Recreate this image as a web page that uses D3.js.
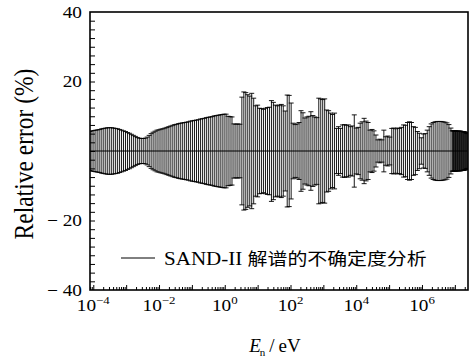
<!DOCTYPE html>
<html>
<head>
<meta charset="utf-8">
<script src="https://cdn.jsdelivr.net/npm/d3@7"></script>
<style>
  body { margin: 0; background: #fff; }
  text { font-family: "Liberation Serif", "Times New Roman", serif; fill: #000; }
</style>
</head>
<body>
<svg id="chart" width="474" height="357"></svg>
<script>
// log10 of neutron energy (eV) for every error bar
const logE = [
  -4.10, -4.04, -3.98, -3.92, -3.86, -3.80, -3.74, -3.68, -3.62, -3.56,
  -3.50, -3.44, -3.38, -3.32, -3.26, -3.20, -3.14, -3.08, -3.02, -2.96,
  -2.90, -2.84, -2.78, -2.72, -2.66, -2.60, -2.54, -2.48, -2.42, -2.36,
  -2.30, -2.24, -2.18, -2.12, -2.06, -2.00, -1.94, -1.88, -1.82, -1.76,
  -1.70, -1.64, -1.58, -1.52, -1.46, -1.40, -1.34, -1.28, -1.22, -1.16,
  -1.10, -1.04, -0.98, -0.92, -0.86, -0.80, -0.74, -0.68, -0.62, -0.56,
  -0.50, -0.44, -0.38, -0.32, -0.26, -0.20, -0.14, -0.08, -0.02,
  0.04, 0.10, 0.16, 0.22, 0.28, 0.34, 0.40, 0.46, 0.52, 0.58,
  0.64, 0.70, 0.76, 0.82, 0.88, 0.94, 1.00, 1.06, 1.12, 1.18,
  1.24, 1.30, 1.36, 1.42, 1.48, 1.54, 1.60, 1.66, 1.72, 1.78,
  1.84, 1.90, 1.96, 2.02, 2.08, 2.14, 2.20, 2.26, 2.32, 2.38,
  2.44, 2.50, 2.56, 2.62, 2.68, 2.74, 2.80, 2.86, 2.92, 2.98,
  3.04, 3.10, 3.16, 3.22, 3.28, 3.34, 3.40, 3.46, 3.52, 3.58,
  3.64, 3.70, 3.76, 3.82, 3.88, 3.94, 4.00, 4.06, 4.12, 4.18,
  4.24, 4.30, 4.36, 4.42, 4.48, 4.54, 4.60, 4.66, 4.72, 4.78,
  4.84, 4.90, 4.96, 5.02, 5.08, 5.14, 5.20, 5.26, 5.32, 5.38,
  5.44, 5.50, 5.56, 5.62, 5.68, 5.74, 5.80, 5.86, 5.92, 5.98,
  6.04, 6.10,
  6.16, 6.22, 6.28, 6.34, 6.40, 6.46, 6.52, 6.58, 6.64, 6.70,
  6.76, 6.82, 6.88,
  6.92, 6.94, 6.96, 6.98, 7.00, 7.02, 7.04, 7.06, 7.08, 7.10,
  7.12, 7.14, 7.16, 7.18, 7.20, 7.22, 7.24, 7.26, 7.28, 7.30,
  7.32, 7.34, 7.36, 7.38
]

// relative error (%), bars are symmetric around 0
const relErr = [
  5.6, 5.8, 5.9, 6.0, 6.1, 6.2, 6.4, 6.5, 6.6, 6.7,
  6.7, 6.7, 6.6, 6.5, 6.4, 6.2, 6.0, 5.8, 5.6, 5.3,
  5.1, 4.8, 4.5, 4.2, 3.9, 3.7, 3.6, 3.6, 3.7, 4.0,
  4.5, 5.0, 5.4, 5.7, 6.0, 6.1, 6.3, 6.4, 6.6, 6.8,
  7.0, 7.2, 7.4, 7.6, 7.7, 7.9, 8.0, 8.1, 8.2, 8.3,
  8.4, 8.6, 8.7, 8.8, 8.9, 9.0, 9.2, 9.3, 9.4, 9.6,
  9.7, 9.8, 9.9, 10.1, 10.2, 10.3, 10.4, 10.5, 10.6,
  10.6, 10.0, 9.9, 9.8, 7.8, 7.7, 7.8, 7.7, 15.5, 17.0,
  16.8, 16.2, 15.8, 16.6, 15.2, 13.0, 13.2, 12.3, 12.2, 12.0,
  12.3, 12.5, 12.6, 14.5, 14.0, 13.2, 13.0, 13.2, 13.4, 13.0,
  11.5, 16.1, 16.0, 13.8, 8.0, 7.6, 7.8, 8.2, 11.6, 11.0,
  9.5, 9.8, 10.0, 11.3, 10.2, 9.8, 9.6, 15.2, 15.0, 14.8,
  15.0, 11.8, 11.6, 10.9, 10.5, 10.9, 6.5, 7.0, 6.5, 7.5,
  7.6, 7.4, 7.5, 7.0, 7.2, 10.4, 6.6, 6.8, 8.0, 8.4,
  9.4, 8.6, 8.2, 6.0, 6.2, 5.8, 4.6, 3.2, 3.4, 3.2,
  6.0, 4.1, 4.3, 4.0, 6.5, 6.6, 6.4, 6.6, 6.5, 6.8,
  7.5, 7.4, 8.2, 8.4, 8.2, 7.0, 6.8, 5.6, 5.1, 3.8,
  4.9, 5.0,
  6.0, 7.0, 7.8, 8.2, 8.4, 8.5, 8.5, 8.5, 8.4, 8.3,
  8.1, 7.6, 6.6,
  5.8, 5.8, 5.8, 5.8, 5.8, 5.8, 5.7, 5.7, 5.7, 5.7,
  5.7, 5.7, 5.7, 5.7, 5.6, 5.6, 5.6, 5.6, 5.5, 5.5,
  5.4, 5.3, 5.1, 5.0
]

const yTickLabels = [40, 20, -20, -40]
const xLabelExps = [-4, -2, 0, 2, 4, 6]
const legendLatin = 'SAND-II '
const legendCjk = '解谱的不确定度分析'

const plotLeft = 90, plotRight = 468, plotTop = 12, plotBottom = 290
const sx = 1.17   // the original figure is stretched sideways a bit

const svg = d3.select('#chart')

const x = d3.scaleLog()
  .domain([Math.pow(10, -4.1), Math.pow(10, 7.4)])
  .range([plotLeft, plotRight])
const y = d3.scaleLinear().domain([-40, 40]).range([plotBottom, plotTop])

// tick values
let majorX = [], minorX = []
for (let d = -5; d <= 7; d++) {
  for (let k = 1; k <= 9; k++) {
    let v = k * Math.pow(10, d)
    if (v < x.domain()[0] || v > x.domain()[1]) continue
    if (k === 1) majorX.push(v)
    else minorX.push(v)
  }
}
let yTicks = d3.range(-37.5, 40, 2.5)

// axes, ticks drawn inward
svg.append('g')
  .attr('transform', 'translate(0,' + plotBottom + ')')
  .call(d3.axisBottom(x).tickValues(minorX).tickSize(-3).tickFormat(''))
svg.append('g')
  .attr('transform', 'translate(0,' + plotBottom + ')')
  .call(d3.axisBottom(x).tickValues(majorX).tickSize(-5).tickFormat(''))
svg.append('g')
  .attr('transform', 'translate(' + plotLeft + ',0)')
  .call(d3.axisLeft(y).tickValues(yTicks).tickSize(-5).tickFormat(''))
svg.selectAll('.domain').remove()
svg.selectAll('.tick line').attr('stroke', '#000').attr('stroke-width', 1)

// error bars
svg.append('clipPath').attr('id', 'clip')
  .append('rect')
  .attr('x', plotLeft).attr('y', plotTop)
  .attr('width', plotRight - plotLeft).attr('height', plotBottom - plotTop)

let pts = logE.map(function (e, i) { return { en: Math.pow(10, e), err: relErr[i] } })
let plot = svg.append('g').attr('clip-path', 'url(#clip)')
let capW = 2.5

let bars = plot.selectAll('g.bar')
  .data(pts)
  .enter()
  .append('g')
  .attr('class', 'bar')
  .attr('stroke', '#000')
  .attr('stroke-width', 0.9)
bars.append('line')
  .attr('x1', function (d) { return x(d.en) })
  .attr('x2', function (d) { return x(d.en) })
  .attr('y1', function (d) { return y(d.err) })
  .attr('y2', function (d) { return y(-d.err) })
bars.append('line')
  .attr('x1', function (d) { return x(d.en) - capW })
  .attr('x2', function (d) { return x(d.en) + capW })
  .attr('y1', function (d) { return y(d.err) })
  .attr('y2', function (d) { return y(d.err) })
bars.append('line')
  .attr('x1', function (d) { return x(d.en) - capW })
  .attr('x2', function (d) { return x(d.en) + capW })
  .attr('y1', function (d) { return y(-d.err) })
  .attr('y2', function (d) { return y(-d.err) })

// the series itself sits on 0
plot.append('path')
  .datum(pts)
  .attr('fill', 'none')
  .attr('stroke', '#000')
  .attr('stroke-width', 1.2)
  .attr('d', d3.line().x(function (d) { return x(d.en) }).y(function () { return y(0) }))

// frame
svg.append('rect')
  .attr('x', plotLeft).attr('y', plotTop)
  .attr('width', plotRight - plotLeft).attr('height', plotBottom - plotTop)
  .attr('fill', 'none')
  .attr('stroke', '#000')
  .attr('stroke-width', 1.6)

// y tick labels
svg.selectAll('text.ylab')
  .data(yTickLabels)
  .enter()
  .append('text')
  .attr('class', 'ylab')
  .attr('transform', function (d) { return 'translate(82,' + (y(d) + 5.8) + ') scale(' + sx + ',1)' })
  .attr('text-anchor', 'end')
  .attr('font-size', 16.5)
  .text(function (d) { return d < 0 ? '\u2212 ' + Math.abs(d) : String(d) })

// x tick labels 10^n
let xl = svg.selectAll('text.xlab')
  .data(xLabelExps)
  .enter()
  .append('text')
  .attr('class', 'xlab')
  .attr('transform', function (d) { return 'translate(' + x(Math.pow(10, d)) + ',311) scale(' + sx + ',1)' })
  .attr('text-anchor', 'middle')
  .attr('font-size', 16.5)
xl.append('tspan').text('10')
xl.append('tspan')
  .attr('font-size', 11)
  .attr('dy', -7)
  .text(function (d) { return d < 0 ? '\u2212' + Math.abs(d) : String(d) })

// axis titles
let xt = svg.append('text')
  .attr('transform', 'translate(275,352)')
  .attr('text-anchor', 'middle')
  .attr('font-size', 19)
xt.append('tspan').attr('font-style', 'italic').text('E')
xt.append('tspan').attr('font-size', 11).attr('dy', 3.5).attr('dx', -1).text('n')
xt.append('tspan').attr('dy', -3.5).attr('dx', 4).text('/')
xt.append('tspan').attr('dx', 4).text('eV')

svg.append('text')
  .attr('transform', 'translate(33,154) scale(' + sx + ',1) rotate(-90)')
  .attr('text-anchor', 'middle')
  .attr('font-size', 23.5)
  .text('Relative error (%)')

// legend
svg.append('line')
  .attr('x1', 121).attr('x2', 155)
  .attr('y1', 258).attr('y2', 258)
  .attr('stroke', '#000')
  .attr('stroke-width', 1)
let lg = svg.append('text')
  .attr('transform', 'translate(164,265) scale(' + sx + ',1)')
  .attr('font-size', 18)
lg.append('tspan').text(legendLatin)
lg.append('tspan')
  .attr('font-family', '"Noto Sans CJK SC", sans-serif')
  .attr('font-size', 17)
  .text(legendCjk)
</script>
</body>
</html>
